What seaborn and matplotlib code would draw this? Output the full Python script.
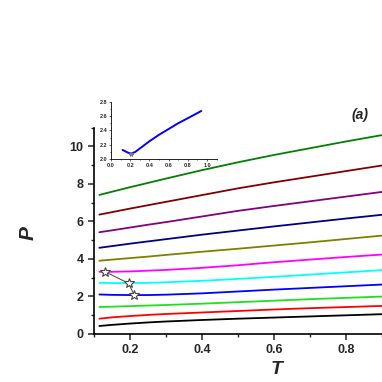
import numpy as np
import matplotlib
import pandas as pd
matplotlib.use('Agg')
import matplotlib.pyplot as plt
from matplotlib.ticker import MultipleLocator
import seaborn as sns

# temperature grid where the isotherm-like curves were read
T = [0.115, 0.15, 0.2, 0.25, 0.3, 0.4, 0.5, 0.6, 0.7, 0.8, 0.9]

p_black = [0.42, 0.48, 0.55, 0.61, 0.66, 0.74, 0.81, 0.87, 0.93, 0.99, 1.05]
p_red = [0.81, 0.88, 0.95, 1.01, 1.06, 1.14, 1.22, 1.30, 1.37, 1.43, 1.49]
p_green = [1.43, 1.45, 1.48, 1.51, 1.54, 1.61, 1.69, 1.77, 1.85, 1.92, 1.99]
p_blue = [2.10, 2.08, 2.07, 2.07, 2.09, 2.16, 2.26, 2.36, 2.45, 2.54, 2.63]
p_cyan = [2.72, 2.71, 2.71, 2.72, 2.75, 2.83, 2.93, 3.04, 3.16, 3.28, 3.40]
p_magenta = [3.31, 3.31, 3.33, 3.37, 3.41, 3.52, 3.66, 3.82, 3.96, 4.10, 4.23]
p_olive = [3.90, 3.96, 4.04, 4.12, 4.21, 4.38, 4.54, 4.71, 4.88, 5.06, 5.24]
p_navy = [4.59, 4.68, 4.81, 4.93, 5.05, 5.29, 5.51, 5.73, 5.94, 6.15, 6.35]
p_purple = [5.42, 5.52, 5.67, 5.82, 5.96, 6.26, 6.56, 6.82, 7.07, 7.32, 7.57]
p_wine = [6.36, 6.49, 6.68, 6.86, 7.04, 7.40, 7.76, 8.08, 8.38, 8.68, 8.98]
p_olivegreen = [7.41, 7.58, 7.82, 8.05, 8.28, 8.73, 9.15, 9.54, 9.90, 10.26, 10.60]

curves = {
    'black': p_black, 'red': p_red, 'green': p_green, 'blue': p_blue,
    'cyan': p_cyan, 'magenta': p_magenta, 'olive': p_olive, 'navy': p_navy,
    'purple': p_purple, 'wine': p_wine, 'olivegreen': p_olivegreen,
}
colors = {
    'black': '#000000', 'red': '#ff0000', 'green': '#22dd22', 'blue': '#0000ff',
    'cyan': '#00ffff', 'magenta': '#ff00ff', 'olive': '#808000', 'navy': '#000080',
    'purple': '#800080', 'wine': '#800000', 'olivegreen': '#008000',
}

# critical points (stars)
T_crit = [0.131, 0.196, 0.212]
P_crit = [3.31, 2.70, 2.06]

# inset curve
T_inset = [0.12, 0.15, 0.18, 0.21, 0.25, 0.3, 0.4, 0.5, 0.6, 0.7, 0.8, 0.94]
P_inset = [2.13, 2.11, 2.09, 2.08, 2.10, 2.15, 2.25, 2.34, 2.42, 2.50, 2.57, 2.67]

rows = []
for name, vals in curves.items():
    for t, p in zip(T, vals):
        rows.append((name, t, p))
df = pd.DataFrame(rows, columns=['curve', 'T', 'P'])

sns.set_style('ticks')
plt.rcParams['font.family'] = ['Liberation Sans', 'DejaVu Sans']
plt.rcParams['font.weight'] = 'bold'

fig = plt.figure(figsize=(3.82, 3.82), dpi=100)
ax = fig.add_axes([0.246, 0.126, 0.754, 0.540])

sns.lineplot(data=df, x='T', y='P', hue='curve', palette=colors, legend=False,
             linewidth=1.3, ax=ax)
ax.plot(T_crit, P_crit, color='#555555', linewidth=0.8, marker='*',
        markersize=7, markerfacecolor='white', markeredgecolor='#444444',
        markeredgewidth=0.8)

ax.set_xlim(0.1, 0.9)
ax.set_ylim(0, 11)
ax.xaxis.set_major_locator(MultipleLocator(0.2))
ax.xaxis.set_minor_locator(MultipleLocator(0.1))
ax.yaxis.set_major_locator(MultipleLocator(2))
ax.yaxis.set_minor_locator(MultipleLocator(1))
ax.set_xticks([0.2, 0.4, 0.6, 0.8])
ax.tick_params(which='major', direction='out', length=4, width=1.1, labelsize=9)
ax.tick_params(which='minor', direction='out', length=2.5, width=1.0)
for lab in ax.get_xticklabels() + ax.get_yticklabels():
    lab.set_fontweight('bold')
sns.despine(ax=ax)
for s in ['left', 'bottom']:
    ax.spines[s].set_linewidth(1.2)
    ax.spines[s].set_color('black')

ax.set_xlabel('T', fontsize=14, fontweight='bold', fontstyle='italic')
ax.set_ylabel('P', fontsize=15, fontweight='bold', fontstyle='italic')
ax.xaxis.set_label_coords(0.635, -0.13)
ax.yaxis.set_label_coords(-0.195, 0.49)
ax.text(0.924, 1.06, '(a)', transform=ax.transAxes, fontsize=10,
        fontweight='bold', fontstyle='italic', ha='center', va='center')

# inset
axin = fig.add_axes([0.2906, 0.583, 0.2765, 0.151])
sns.lineplot(x=T_inset, y=P_inset, color='#0000ff', linewidth=1.4, ax=axin)
axin.plot([0.21], [2.08], marker='*', markersize=3, color='#777777', linestyle='none')
axin.set_xlim(0, 1.1)
axin.set_ylim(2.0, 2.8)
axin.xaxis.set_major_locator(MultipleLocator(0.2))
axin.xaxis.set_minor_locator(MultipleLocator(0.1))
axin.yaxis.set_major_locator(MultipleLocator(0.2))
axin.yaxis.set_minor_locator(MultipleLocator(0.1))
axin.set_xticks([0.0, 0.2, 0.4, 0.6, 0.8, 1.0])
axin.tick_params(which='major', direction='out', length=1.5, width=0.5, labelsize=4, pad=1)
axin.tick_params(which='minor', direction='out', length=1, width=0.5)
sns.despine(ax=axin)
for s in ['left', 'bottom']:
    axin.spines[s].set_linewidth(0.6)
    axin.spines[s].set_color('black')
axin.patch.set_alpha(0)

fig.savefig('out.png', dpi=100)
